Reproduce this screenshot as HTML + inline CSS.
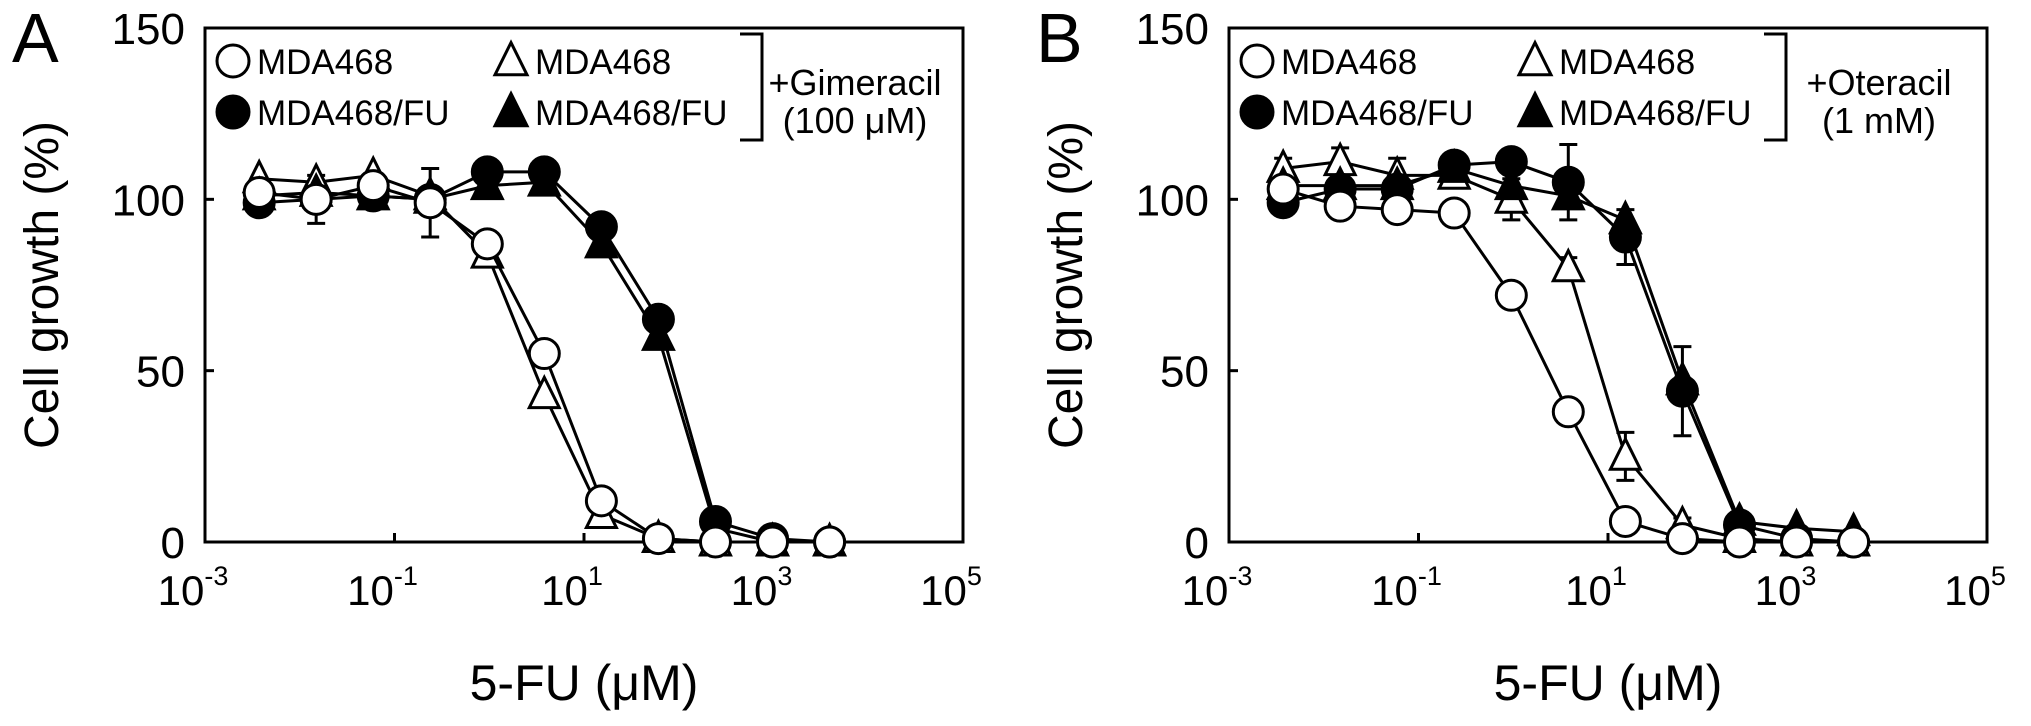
<!DOCTYPE html>
<html><head><meta charset="utf-8"><style>
html,body{margin:0;padding:0;background:#fff;}
svg{display:block;font-family:"Liberation Sans",Arial,sans-serif;}
</style></head><body>
<svg id="fig" width="2031" height="726" viewBox="0 0 2031 726" xmlns="http://www.w3.org/2000/svg"></svg>
<script>
// ---- data ----
const concentrations = [0.00373, 0.0149, 0.0596, 0.238, 0.954, 3.81, 15.26, 61.0, 244.1, 976.6, 3906.25];
const xTickExps = [-3, -1, 1, 3, 5];
const yTicks = [0, 50, 100, 150];
// Panel A (+Gimeracil)
const aOpenCircle = [102, 100, 104, 99, 87, 55, 12, 1, 0, 0, 0];
const aOpenTri = [106, 105, 107, 101, 84, 43, 8, 1, 0, 0, 0];
const aFillCircle = [99, 100, 101, 100, 108, 108, 92, 65, 6, 1, 0];
const aFillTri = [101, 102, 101, 100, 104, 105, 87, 60, 4, 0, 0];
const aErrOpenCircle = [3, 7, 2, 10, 2, 2, 1, 1, 0, 0, 0];
// Panel B (+Oteracil)
const bOpenCircle = [103, 98, 97, 96, 72, 38, 6, 1, 0, 0, 0];
const bOpenTri = [109, 111, 107, 107, 100, 80, 25, 5, 1, 0, 0];
const bFillCircle = [99, 103, 103, 110, 111, 105, 89, 44, 5, 1, 0];
const bFillTri = [104, 104, 104, 109, 104, 101, 94, 47, 6, 4, 3];
const bErrFill = [3, 3, 4, 3, 2, 11, 8, 13, 2, 1, 1];
const bErrOpenTri = [3, 4, 5, 3, 6, 3, 7, 2, 1, 0, 0];

const NS = "http://www.w3.org/2000/svg";
const svg = document.getElementById('fig');
function mk(tag, attrs, parent, text){
  const e = document.createElementNS(NS, tag);
  for (const k in attrs) e.setAttribute(k, attrs[k]);
  if (text !== undefined) e.textContent = text;
  (parent || svg).appendChild(e);
  return e;
}

function panel(ox, letter, drug, dose, series, errs){
  const L = ox, R = ox + 758, T = 28, B = 542;
  const xs = v => L + (Math.log10(v) + 3) * (R - L) / 8;
  const ys = v => B - v * (B - T) / 150;
  const g = mk('g', {});
  
  

  const lt = mk('text', {x: ox - 193, y: 62, 'font-size': 70}, g, letter);
  
  

  const frame = mk('rect', {x: L, y: T, width: R - L, height: B - T, fill: 'none', stroke: '#000', 'stroke-width': 3}, g);
  
  

  yTicks.forEach(t => {
    const y = ys(t);
    const tk = mk('line', {x1: L, x2: L + 9, y1: y, y2: y, stroke: '#000', 'stroke-width': 3}, g);
    
    
    const tl = mk('text', {x: L - 20, y: y + 16, 'font-size': 44, 'text-anchor': 'end'}, g, String(t));
    
    
  });
  xTickExps.forEach(e => {
    const x = xs(Math.pow(10, e));
    const tk = mk('line', {x1: x, x2: x, y1: B, y2: B - 9, stroke: '#000', 'stroke-width': 3}, g);
    
    
    const tl = mk('text', {x: x - 12, y: 605, 'font-size': 42, 'text-anchor': 'middle'}, g);
    
    
    mk('tspan', {}, tl, '10');
    mk('tspan', {dy: -20, 'font-size': 27}, tl, String(e));
  });

  const yt = mk('text', {x: 0, y: 0, 'font-size': 48, 'text-anchor': 'middle', transform: `translate(${ox - 147},285) rotate(-90)`}, g, 'Cell growth (%)');
  
  
  const xt = mk('text', {x: (L + R) / 2, y: 700, 'font-size': 50, 'text-anchor': 'middle'}, g, '5-FU (\u03bcM)');
  
  

  errs.forEach(er => {
    er.vals.forEach((ev, i) => {
      if (ev < 2) return;
      const x = xs(concentrations[i]);
      const y1 = ys(er.series[i] + ev), y2 = ys(er.series[i] - ev);
      const eb = mk('path', {d: `M${x},${y1}V${y2}M${x-9},${y1}H${x+9}M${x-9},${y2}H${x+9}`, stroke: '#000', 'stroke-width': 3, fill: 'none'}, g);
      
      
    });
  });

  function marker(shape, filled, x, y, parent, r){
    r = r || 15;
    const fill = filled ? '#000' : '#fff';
    if (shape === 'c') return mk('circle', {cx: x, cy: y, r: r, fill: fill, stroke: '#000', 'stroke-width': 3}, parent);
    const h = r * 1.15;
    return mk('polygon', {points: `${x},${y - h} ${x + r},${y + h * 0.75} ${x - r},${y + h * 0.75}`, fill: fill, stroke: '#000', 'stroke-width': 3}, parent);
  }

  series.forEach(s => {
    const sg = mk('g', {}, g);
    
    
    const d = s.vals.map((v, i) => (i ? 'L' : 'M') + xs(concentrations[i]) + ',' + ys(v)).join('');
    const ln = mk('path', {d: d, fill: 'none', stroke: '#000', 'stroke-width': 3}, sg);
    
    
    s.vals.forEach((v, i) => {
      const m = marker(s.shape, s.filled, xs(concentrations[i]), ys(v), sg);
      
      
    });
  });

  const lg = mk('g', {}, g);
  
  
  const ent = [
    ['c', false, ox + 28, 62, 'MDA468'],
    ['c', true, ox + 28, 113, 'MDA468/FU'],
    ['t', false, ox + 306, 62, 'MDA468'],
    ['t', true, ox + 306, 113, 'MDA468/FU']
  ];
  ent.forEach(e => {
    const eg = mk('g', {}, lg);
    
    
    marker(e[0], e[1], e[2], e[3] - 1, eg, 16);
    mk('text', {x: e[2] + 24, y: e[3] + 12, 'font-size': 35}, eg, e[4]);
  });
  const bx = ox + 557;
  const br = mk('path', {d: `M${bx - 22},34H${bx}V140H${bx - 22}`, fill: 'none', stroke: '#000', 'stroke-width': 3}, lg);
  
  
  const d1 = mk('text', {x: ox + 650, y: 95, 'font-size': 36, 'text-anchor': 'middle'}, lg, drug);
  
  
  const d2 = mk('text', {x: ox + 650, y: 133, 'font-size': 36, 'text-anchor': 'middle'}, lg, dose);
  
  
}

panel(205, 'A', '+Gimeracil', '(100 \u03bcM)', [
  {name: 'mda468-gim', shape: 't', filled: false, vals: aOpenTri},
  {name: 'mda468fu-gim', shape: 't', filled: true, vals: aFillTri},
  {name: 'mda468fu', shape: 'c', filled: true, vals: aFillCircle},
  {name: 'mda468', shape: 'c', filled: false, vals: aOpenCircle}
], [{series: aOpenCircle, vals: aErrOpenCircle}]);

panel(1229, 'B', '+Oteracil', '(1 mM)', [
  {name: 'mda468-ote', shape: 't', filled: false, vals: bOpenTri},
  {name: 'mda468fu-ote', shape: 't', filled: true, vals: bFillTri},
  {name: 'mda468fu', shape: 'c', filled: true, vals: bFillCircle},
  {name: 'mda468', shape: 'c', filled: false, vals: bOpenCircle}
], [{series: bFillCircle, vals: bErrFill}, {series: bOpenTri, vals: bErrOpenTri}]);
</script>
</body></html>
